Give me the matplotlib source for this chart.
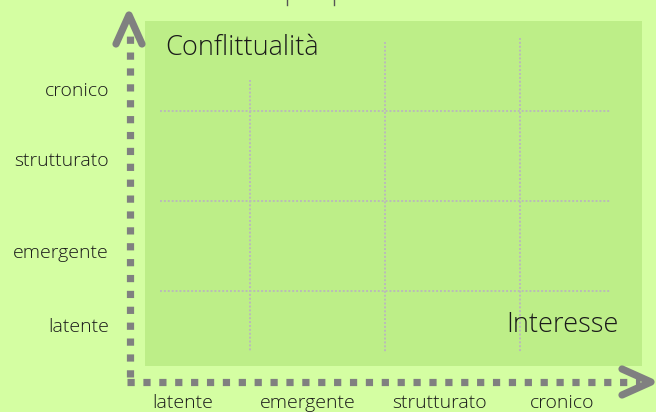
import matplotlib.pyplot as plt

# categories shown on both axes
x_labels = ["latente", "emergente", "strutturato", "cronico"]
y_labels = ["cronico", "strutturato", "emergente", "latente"]
x_title = "Interesse"
y_title = "Conflittualità"

# layout in pixel coordinates (figure 656x412, y grows downward)
x_label_pos = [183, 308, 440, 562]
y_label_pos = [91, 161, 253, 327]
v_grid = [(250, 80), (385, 42), (520, 38)]   # x, top end
h_grid = [111, 201, 291]

plt.rcParams['font.family'] = ['Open Sans', 'DejaVu Sans']

fig = plt.figure(figsize=(6.56, 4.12), dpi=100)
fig.patch.set_facecolor('#d4fea2')
ax = fig.add_axes([0, 0, 1, 1])
ax.set_xlim(0, 656)
ax.set_ylim(412, 0)
ax.axis('off')

# inner panel
ax.add_patch(plt.Rectangle((145, 21), 497, 345, facecolor='#bdee88', edgecolor='none'))

# dotted grid
for x, top in v_grid:
    ax.plot([x, x], [top, 352], color='#bababa', lw=1.4, ls=(0, (1, 1)),
            dash_capstyle='butt')
for y in h_grid:
    ax.plot([160, 610], [y, y], color='#bababa', lw=1.4, ls=(0, (1, 1)),
            dash_capstyle='butt')

# dotted axes with chevron heads
gray = '#808080'
ax.plot([130, 130], [377, 30], color=gray, lw=5.2, ls=(0, (1, 1.2)), dash_capstyle='butt')
ax.plot([127, 640], [382, 382], color=gray, lw=5.2, ls=(0, (1, 1.2)), dash_capstyle='butt')
ax.plot([116, 129, 142], [44, 15, 44], color=gray, lw=5.2, solid_capstyle='round',
        solid_joinstyle='round')
ax.plot([622, 651, 622], [369, 382, 395], color=gray, lw=5.2, solid_capstyle='round',
        solid_joinstyle='round')

# small marks at the top edge
for x in [287, 334]:
    ax.plot([x, x], [0, 5], color='#555555', lw=1)

for lab, x in zip(x_labels, x_label_pos):
    ax.text(x, 403, lab, ha='center', va='center', fontsize=14, color='#1a1a1a',
            fontweight='light')
for lab, y in zip(y_labels, y_label_pos):
    ax.text(109, y, lab, ha='right', va='center', fontsize=14, color='#1a1a1a',
            fontweight='light')

ax.text(165, 48, y_title, ha='left', va='center', fontsize=19.5, color='#1a1a1a',
        fontweight='light')
ax.text(619, 325, x_title, ha='right', va='center', fontsize=19.5, color='#1a1a1a',
        fontweight='light')

fig.savefig('out.png', dpi=100, facecolor=fig.get_facecolor())
